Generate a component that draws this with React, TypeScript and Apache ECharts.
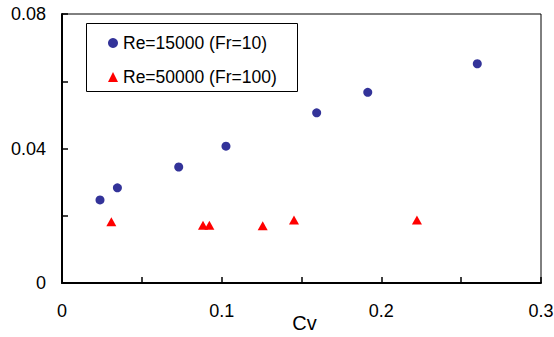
import React, { useEffect, useRef } from "react";
import * as echarts from "echarts";

const seriesNames = ["Re=15000 (Fr=10)", "Re=50000 (Fr=100)"];
const cvRe15000 = [0.0238, 0.0347, 0.0731, 0.1027, 0.1595, 0.1915, 0.2601];
const valRe15000 = [0.0247, 0.0283, 0.0345, 0.0407, 0.0506, 0.0567, 0.0652];
const cvRe50000 = [0.0309, 0.0883, 0.0923, 0.1257, 0.1453, 0.2223];
const valRe50000 = [0.0182, 0.0172, 0.0172, 0.017, 0.0187, 0.0187];
const xTickLabels = [0, 0.1, 0.2, 0.3];
const yTickLabels = [0, 0.04, 0.08];

const FONT = "Arial, 'Liberation Sans', sans-serif";

function fmt(v: number, labels: number[]) {
  const hit = labels.find((l) => Math.abs(l - v) < 1e-9);
  return hit === undefined ? "" : String(hit);
}

export default function App() {
  const ref = useRef<HTMLDivElement>(null);
  useEffect(() => {
    if (!ref.current) return;
    const chart = echarts.init(ref.current, undefined, { renderer: "svg" });
    chart.setOption({
      animation: false,
      backgroundColor: "#fff",
      grid: {
        left: 62,
        right: 13,
        top: 14,
        bottom: 54,
        containLabel: false,
        outerBoundsMode: "none",
        show: true,
        borderColor: "#000",
        borderWidth: 1,
      },
      graphic: [
        {
          type: "rect",
          left: 86,
          top: 23,
          z: 1,
          shape: { width: 211, height: 68 },
          style: { fill: "#fff", stroke: "#000", lineWidth: 1 },
        },
      ],
      legend: {
        left: 108,
        top: 33,
        orient: "vertical",
        padding: 0,
        itemWidth: 10,
        itemHeight: 10,
        itemGap: 14,
        textStyle: {
          fontFamily: FONT,
          fontSize: 17.5,
          color: "#000",
          lineHeight: 20,
        },
        data: seriesNames,
      },
      xAxis: {
        type: "value",
        min: 0,
        max: 0.3,
        interval: 0.05,
        name: "Cv",
        nameLocation: "middle",
        nameGap: 30,
        nameMoveOverlap: false,
        nameTextStyle: {
          fontFamily: FONT,
          fontSize: 20,
          color: "#000",
          padding: [0, 0, 0, 6],
        },
        axisLine: { show: true, lineStyle: { color: "#000", width: 2 } },
        axisTick: { show: true, inside: true, length: 6, lineStyle: { color: "#000", width: 1.5 } },
        splitLine: { show: false },
        axisLabel: {
          fontFamily: FONT,
          fontSize: 18,
          color: "#000",
          margin: 19,
          formatter: (v: number) => fmt(v, xTickLabels),
        },
      },
      yAxis: {
        type: "value",
        min: 0,
        max: 0.08,
        interval: 0.02,
        axisLine: { show: true, lineStyle: { color: "#000", width: 2 } },
        axisTick: { show: true, inside: true, length: 6, lineStyle: { color: "#000", width: 1.5 } },
        splitLine: { show: false },
        axisLabel: {
          fontFamily: FONT,
          fontSize: 18,
          color: "#000",
          margin: 16,
          formatter: (v: number) => fmt(v, yTickLabels),
        },
      },
      series: [
        {
          name: seriesNames[0],
          type: "scatter",
          symbol: "circle",
          symbolSize: 9,
          itemStyle: { color: "#333399", opacity: 1 },
          data: cvRe15000.map((x, i) => [x, valRe15000[i]]),
        },
        {
          name: seriesNames[1],
          type: "scatter",
          symbol: "triangle",
          symbolSize: [10, 9],
          itemStyle: { color: "#ff0000", opacity: 1 },
          data: cvRe50000.map((x, i) => [x, valRe50000[i]]),
        },
      ],
    });
    return () => chart.dispose();
  }, []);
  return (
    <div
      ref={ref}
      style={{ position: "fixed", left: 0, top: 0, width: 554, height: 337 }}
    />
  );
}
